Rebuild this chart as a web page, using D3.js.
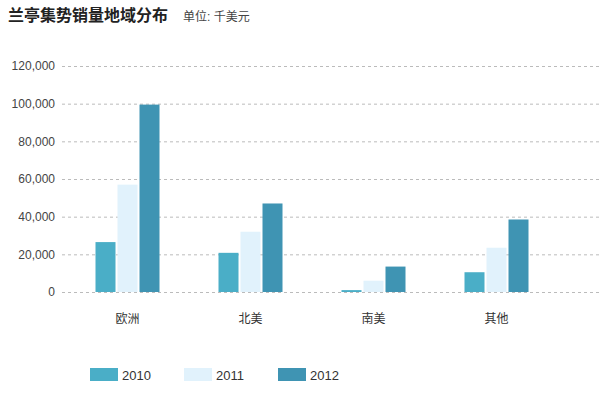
<!DOCTYPE html>
<html>
<head>
<meta charset="utf-8">
<script src="https://cdn.jsdelivr.net/npm/d3@7"></script>
<style>
  body { margin: 0; background: #fff; }
  text { font-family: "Liberation Sans", Arial, "Noto Sans CJK SC", sans-serif; }
</style>
</head>
<body>
<div id="chart"></div>
<script>
const regions = ['欧洲', '北美', '南美', '其他'];
const years = ['2010', '2011', '2012'];
const sales2010 = [26500, 20800, 1000, 10500];
const sales2011 = [57000, 32000, 6000, 23500];
const sales2012 = [99500, 47000, 13500, 38500];
const yTicks = [0, 20000, 40000, 60000, 80000, 100000, 120000];
const colors = ['#4aaec7', '#e1f2fc', '#3f94b3'];

const [w, h] = [607, 397];
const series = [sales2010, sales2011, sales2012];

const svg = d3.select('#chart').append('svg')
  .attr('width', w).attr('height', h);

svg.append('text').attr('x', 8).attr('y', 21)
  .attr('font-size', 16).attr('font-weight', 'bold').attr('fill', '#222')
  .text('兰亭集势销量地域分布');
svg.append('text').attr('x', 183).attr('y', 21)
  .attr('font-size', 12).attr('fill', '#444')
  .text('单位: 千美元');

const x = d3.scaleBand().domain(regions).range([66, 558]);
const y = d3.scaleLinear().domain([0, 120000]).range([292, 66]);
const barW = 20, gap = 2;

// grid
svg.append('g').selectAll('line').data(yTicks).enter().append('line')
  .attr('x1', 62).attr('x2', 600)
  .attr('y1', d => y(d) + 0.5).attr('y2', d => y(d) + 0.5)
  .attr('stroke', '#bbb').attr('stroke-dasharray', '3,3');

// y axis labels
const yAxis = d3.axisLeft(y).tickValues(yTicks).tickSize(0).tickPadding(0)
  .tickFormat(d3.format(','));
const gy = svg.append('g').attr('transform', 'translate(55,0)').call(yAxis);
gy.select('.domain').remove();
gy.selectAll('text').attr('font-size', 12).attr('fill', '#444')
  .attr('font-family', '"Liberation Sans", Arial, sans-serif');

// x axis labels
const xAxis = d3.axisBottom(x).tickSize(0).tickPadding(0);
const gx = svg.append('g').attr('transform', 'translate(0,314)').call(xAxis);
gx.select('.domain').remove();
gx.selectAll('text').attr('font-size', 12).attr('fill', '#333')
  .attr('font-family', '"Noto Sans CJK SC", sans-serif');

// bars
series.forEach((vals, i) => {
  svg.append('g').selectAll('rect').data(vals).enter().append('rect')
    .attr('x', (d, j) => x(regions[j]) + x.bandwidth() / 2 - (3 * barW + 2 * gap) / 2 + i * (barW + gap))
    .attr('y', d => y(d))
    .attr('width', barW)
    .attr('height', d => y(0) - y(d))
    .attr('fill', colors[i]);
});

// legend
const lg = svg.append('g').selectAll('g').data(years).enter().append('g')
  .attr('transform', (d, i) => `translate(${90 + i * 94},368)`);
lg.append('rect').attr('width', 28).attr('height', 13)
  .attr('fill', (d, i) => colors[i]);
lg.append('text').attr('x', 32).attr('y', 12)
  .attr('font-size', 13).attr('fill', '#333').text(d => d);
</script>
</body>
</html>
